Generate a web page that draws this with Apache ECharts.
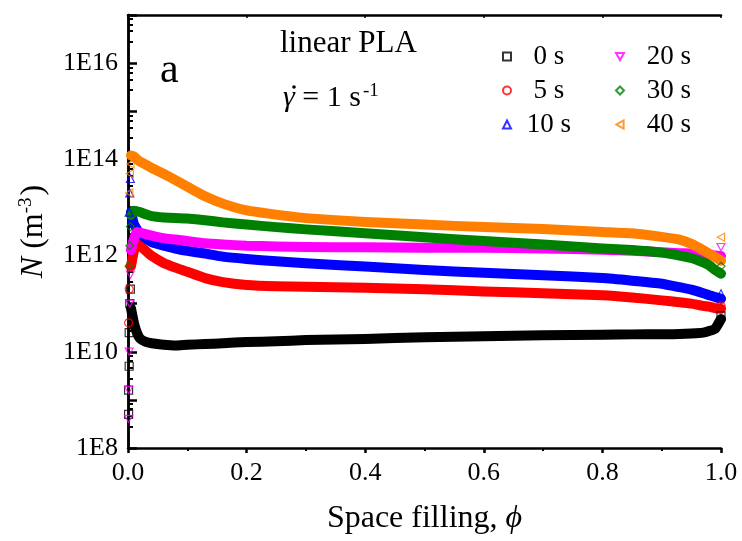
<!DOCTYPE html>
<html>
<head>
<meta charset="utf-8">
<script src="https://cdn.jsdelivr.net/npm/echarts@6/dist/echarts.min.js"></script>
<style>
  html, body {margin: 0; padding: 0; background: #fff;}
  #chart {width: 742px; height: 541px;}
</style>
</head>
<body>
<div id="chart"></div>
<script>
// ---------- data ----------
var fontFamily = 'Liberation Serif';

// space filling positions of the main curves
var phi = [0.005, 0.01, 0.015, 0.02, 0.03, 0.04, 0.06, 0.08, 0.1, 0.13, 0.16, 0.2, 0.25, 0.3,
  0.4, 0.5, 0.6, 0.7, 0.8, 0.85, 0.9, 0.93, 0.95, 0.97, 0.98, 0.99, 1.0];

// N (m^-3) for each shearing time
var n0s = [8e10, 4e10, 2.5e10, 1.9e10, 1.6e10, 1.5e10, 1.4e10, 1.35e10, 1.4e10, 1.45e10, 1.5e10, 1.6e10,
  1.65e10, 1.75e10, 1.85e10, 2e10, 2.1e10, 2.2e10, 2.25e10, 2.3e10, 2.3e10, 2.35e10, 2.4e10, 2.5e10,
  2.7e10, 3e10, 4.8e10];
var n5s = [6e11, 1.25e12, 2e12, 1.65e12, 1.25e12, 9.8e11, 7e11, 5.6e11, 4.6e11, 3.4e11, 2.8e11, 2.45e11,
  2.3e11, 2.25e11, 2.15e11, 2e11, 1.8e11, 1.65e11, 1.5e11, 1.35e11, 1.17e11, 1.07e11, 1e11, 9e10,
  8.7e10, 8.1e10, 7.8e10];
var n10s = [8e12, 4.5e12, 3.5e12, 2.8e12, 2.3e12, 1.9e12, 1.6e12, 1.4e12, 1.25e12, 1.1e12, 9.5e11, 8.5e11,
  7.6e11, 6.9e11, 5.9e11, 5e11, 4.4e11, 3.9e11, 3.4e11, 3e11, 2.6e11, 2.2e11, 1.95e11, 1.65e11,
  1.5e11, 1.38e11, 1.26e11];
var n20s = [1.3e12, 2.2e12, 3.1e12, 3e12, 2.8e12, 2.6e12, 2.3e12, 2.15e12, 2e12, 1.8e12, 1.7e12, 1.6e12,
  1.55e12, 1.5e12, 1.48e12, 1.45e12, 1.45e12, 1.4e12, 1.32e12, 1.26e12, 1.17e12, 1.12e12, 1.1e12,
  1.05e12, 1.02e12, 1e12, 9.8e11];
var n30s = [7e12, 8.5e12, 8.3e12, 8e12, 7.2e12, 6.6e12, 6.2e12, 6e12, 5.9e12, 5.4e12, 4.9e12, 4.4e12,
  3.9e12, 3.5e12, 2.9e12, 2.4e12, 2e12, 1.7e12, 1.4e12, 1.3e12, 1.15e12, 1e12, 8.9e11, 7.2e11,
  6.3e11, 5e11, 4.2e11];
var n40s = [1.2e14, 1.15e14, 1e14, 9e13, 7.8e13, 6.6e13, 5e13, 3.7e13, 2.7e13, 1.7e13, 1.2e13, 8.7e12,
  7.1e12, 6e12, 5e12, 4.4e12, 3.9e12, 3.55e12, 3.1e12, 2.9e12, 2.45e12, 2.15e12, 1.75e12, 1.3e12,
  1.1e12, 9.3e11, 7.8e11];

// scattered points at the very ends of each curve (phi, N)
var edge0s = [[0.001, 5e8], [0.001, 1.6e9], [0.002, 5e9], [0.002, 2.5e10], [0.003, 1e11], [0.004, 2e11], [1.0, 5.6e10]];
var edge5s = [[0.001, 4e10], [0.002, 2e11], [0.003, 6e11], [1.0, 9e10]];
var edge10s = [[0.002, 8e12], [0.003, 2e13], [0.004, 4e13], [1.0, 1.6e11]];
var edge20s = [[0.001, 4e8], [0.001, 1.6e9], [0.002, 1e10], [0.003, 1e11], [0.004, 4e11], [1.0, 1.5e12]];
var edge30s = [[0.002, 6e11], [0.003, 1.6e12], [0.004, 4e12], [1.0, 6e11]];
var edge40s = [[0.002, 2e13], [0.003, 5e13], [0.004, 8e13], [1.0, 2.4e12]];

var names = ['0 s', '5 s', '10 s', '20 s', '30 s', '40 s'];
var curves = [n0s, n5s, n10s, n20s, n30s, n40s];
var edges = [edge0s, edge5s, edge10s, edge20s, edge30s, edge40s];

// ---------- styles ----------
var colors = ['#000000', '#ff0000', '#0000ff', '#ff00ff', '#008000', '#ff8000'];
var symbols = ['rect', 'circle', 'triangle', 'path://M0,0L10,0L5,9Z', 'diamond', 'path://M9,0L9,10L0,5Z'];

var series = [];
// hollow markers first so the legend takes its icon from them
names.forEach(function (name, i) {
  series.push({
    name: name,
    type: 'scatter',
    symbol: symbols[i],
    symbolKeepAspect: true,
    symbolSize: 8,
    itemStyle: {color: 'rgba(255,255,255,0)', borderColor: colors[i], borderWidth: 1.2},
    z: 4,
    data: edges[i]
  });
});
// thick bands made of densely packed markers
names.forEach(function (name, i) {
  series.push({
    name: name,
    type: 'line',
    smooth: 0.15,
    showSymbol: false,
    lineStyle: {color: colors[i], width: 10, join: 'round', cap: 'round'},
    itemStyle: {color: colors[i]},
    z: 2,
    data: phi.map(function (p, k) { return [p, curves[i][k]]; })
  });
});

function legendAt(left, pad, items) {
  return {
    orient: 'vertical',
    left: left,
    top: 38,
    itemWidth: 8,
    itemHeight: 8,
    itemGap: 7,
    selectedMode: false,
    formatter: function (name) { return '{t|' + name + '}'; },
    textStyle: {
      fontFamily: fontFamily, fontSize: 27, color: '#000', padding: [0, 0, 0, pad],
      rich: {t: {fontFamily: fontFamily, fontSize: 27, color: '#000', width: 50, align: 'center', lineHeight: 27}}
    },
    data: items
  };
}

var chart = echarts.init(document.getElementById('chart'));
chart.setOption({
  backgroundColor: '#fff',
  animation: false,
  grid: {left: 128, right: 21, top: 15, bottom: 93, show: false},
  legend: [
    legendAt(497, 8, names.slice(0, 3)),
    legendAt(610, 15, names.slice(3))
  ],
  xAxis: [{
    type: 'value',
    min: 0, max: 1, interval: 0.2,
    name: 'Space filling, {i|ϕ}',
    nameLocation: 'middle',
    nameGap: 55,
    nameTextStyle: {
      fontFamily: fontFamily, fontSize: 32, color: '#000',
      rich: {i: {fontFamily: fontFamily, fontSize: 32, fontStyle: 'italic', color: '#000'}}
    },
    axisLine: {lineStyle: {color: '#000', width: 2.5}},
    axisTick: {inside: false, length: 5, lineStyle: {color: '#000', width: 2.5}},
    minorTick: {show: true, splitNumber: 2, length: 3, lineStyle: {color: '#000', width: 2}},
    axisLabel: {
      fontFamily: fontFamily, fontSize: 26, color: '#000', margin: 12,
      formatter: function (v) { return v.toFixed(1); }
    },
    splitLine: {show: false}
  }, {
    type: 'value',
    position: 'top',
    min: 0, max: 1, interval: 0.2,
    axisLine: {lineStyle: {color: '#000', width: 2.5}},
    axisTick: {inside: true, length: 3, lineStyle: {color: '#000', width: 1.5}},
    axisLabel: {show: false},
    splitLine: {show: false}
  }],
  yAxis: [{
    type: 'log',
    logBase: 10,
    min: 1e8, max: 1e17,
    splitNumber: 9,
    name: '{i|N} (m{sup|-3})',
    nameLocation: 'middle',
    nameRotate: 90,
    nameGap: 78,
    nameTextStyle: {
      fontFamily: fontFamily, fontSize: 32, color: '#000',
      rich: {
        i: {fontFamily: fontFamily, fontSize: 32, fontStyle: 'italic', color: '#000'},
        sup: {fontFamily: fontFamily, fontSize: 19, color: '#000', verticalAlign: 'top', padding: [0, 2, 14, 0]}
      }
    },
    axisLine: {lineStyle: {color: '#000', width: 2.5}},
    axisTick: {inside: true, length: 9, lineStyle: {color: '#000', width: 2.5}},
    minorTick: {show: true, splitNumber: 5, length: 5, lineStyle: {color: '#000', width: 2}},
    axisLabel: {
      fontFamily: fontFamily, fontSize: 26, color: '#000', margin: 10,
      formatter: function (v) {
        var e = Math.round(Math.log10(v));
        return e % 2 === 0 ? '1E' + e : '';
      }
    },
    splitLine: {show: false}
  }, {
    type: 'log',
    position: 'right',
    min: 1e8, max: 1e17,
    axisLine: {lineStyle: {color: '#000', width: 2.5}},
    axisTick: {show: false},
    axisLabel: {show: false},
    splitLine: {show: false}
  }],
  graphic: [{
    type: 'text', left: 160, top: 50,
    style: {text: 'a', fontFamily: fontFamily, fontSize: 42, fill: '#000'}
  }, {
    type: 'text', left: 280, top: 28,
    style: {text: 'linear PLA', fontFamily: fontFamily, fontSize: 31, fill: '#000'}
  }, {
    type: 'text', left: 283, top: 82,
    style: {
      text: '{g|γ} = 1 s{sup|-1}',
      fontFamily: fontFamily, fontSize: 30, fill: '#000',
      rich: {
        g: {fontFamily: fontFamily, fontSize: 30, fontStyle: 'italic', fill: '#000'},
        sup: {fontFamily: fontFamily, fontSize: 19, fill: '#000', verticalAlign: 'top', padding: [0, 0, 14, 2]}
      }
    }
  }, {
    // the dot over gamma (shear rate)
    type: 'circle', shape: {cx: 294, cy: 87, r: 1.8}, style: {fill: '#000'}
  }],
  series: series
});
</script>
</body>
</html>
